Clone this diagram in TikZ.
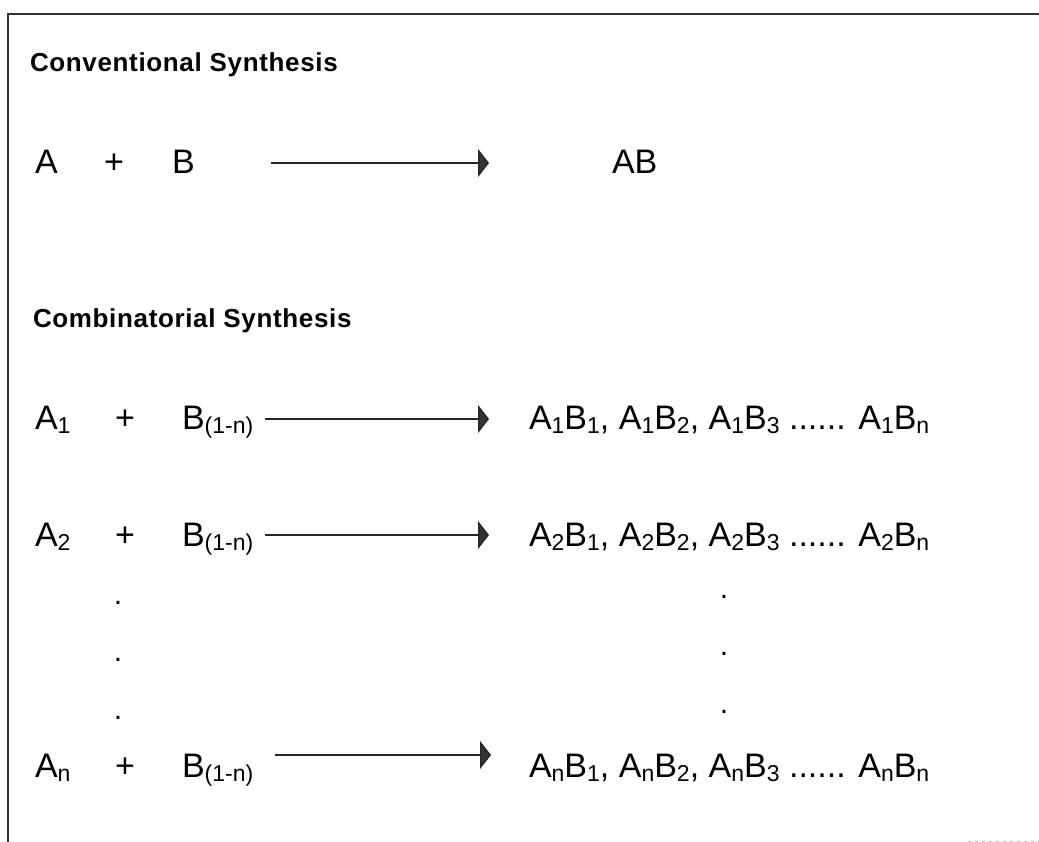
\documentclass[tikz,border=0pt]{standalone}
\usepackage{fontspec}
\setmainfont{Liberation Sans}
\usetikzlibrary{arrows.meta}

% subscript set slightly below the baseline
\newcommand{\sbs}[1]{\raisebox{-4pt}{\fontsize{23}{23}\selectfont #1}}
\newcommand{\hd}[1]{{\fontsize{26}{26}\selectfont\bfseries\addfontfeature{LetterSpace=2.5}#1}}

\tikzset{
  txt/.style={inner sep=0pt, outer sep=0pt, anchor=base west, font=\fontsize{34}{34}\selectfont},
  plus/.style={inner sep=0pt, outer sep=0pt, anchor=base, font=\fontsize{34}{34}\selectfont},
  dotmark/.style={inner sep=0pt, outer sep=0pt, anchor=base, font=\fontsize{30}{30}\selectfont},
  react/.style={draw=black!85, line width=1.4pt,
    -{Triangle[length=11pt,width=28pt,fill=black!80]}},
  frame/.style={draw=black!80, line width=1.4pt},
}

\begin{document}
\begin{tikzpicture}[x=1pt,y=-1pt]
\useasboundingbox (0,0) rectangle (1039,842);

% open frame: top and left edges
\coordinate (ftr) at (1039,14);
\coordinate (ftl) at (8,14);
\coordinate (fbl) at (8,842);
\draw[frame] (ftr) -- (ftl) -- (fbl);
\coordinate (sl) at (968,841);
\coordinate (sr) at (1039,841);
\draw[black!25, line width=0.8pt, dash pattern=on 3pt off 4pt] (sl) -- (sr);

% conventional synthesis
\node[txt] (h1) at (30,72) {\hd{Conventional Synthesis}};
\node[txt] (a0) at (35,174) {A};
\node[plus] (p0) at (114,174) {+};
\node[txt] (b0) at (172,174) {B};
\coordinate (s0) at (271,163);
\coordinate (e0) at (489,163);
\draw[react] (s0) -- (e0);
\node[txt] (ab0) at (612,174) {AB};

% combinatorial synthesis
\node[txt] (h2) at (33,328) {\hd{Combinatorial Synthesis}};

\node[txt] (a1) at (35,429) {A\sbs{1}};
\node[plus] (p1) at (125,429) {+};
\node[txt] (b1) at (182,429) {B\sbs{(1-n)}};
\coordinate (s1) at (265,419);
\coordinate (e1) at (489,419);
\draw[react] (s1) -- (e1);
\node[txt] (r1) at (529,429) {A\sbs{1}B\sbs{1}, A\sbs{1}B\sbs{2}, A\sbs{1}B\sbs{3} ...... A\sbs{1}B\sbs{n}};

\node[txt] (a2) at (35,546) {A\sbs{2}};
\node[plus] (p2) at (125,546) {+};
\node[txt] (b2) at (182,546) {B\sbs{(1-n)}};
\coordinate (s2) at (265,535);
\coordinate (e2) at (489,535);
\draw[react] (s2) -- (e2);
\node[txt] (r2) at (529,546) {A\sbs{2}B\sbs{1}, A\sbs{2}B\sbs{2}, A\sbs{2}B\sbs{3} ...... A\sbs{2}B\sbs{n}};

% vertical ellipsis
\node[dotmark] (dl1) at (118,604) {.};
\node[dotmark] (dl2) at (118,661) {.};
\node[dotmark] (dl3) at (118,719) {.};
\node[dotmark] (dr1) at (724,598) {.};
\node[dotmark] (dr2) at (724,655) {.};
\node[dotmark] (dr3) at (724,713) {.};

\node[txt] (an) at (35,777) {A\sbs{n}};
\node[plus] (pn) at (125,777) {+};
\node[txt] (bn) at (182,777) {B\sbs{(1-n)}};
\coordinate (sn) at (275,755);
\coordinate (en) at (491,755);
\draw[react] (sn) -- (en);
\node[txt] (rn) at (529,777) {A\sbs{n}B\sbs{1}, A\sbs{n}B\sbs{2}, A\sbs{n}B\sbs{3} ...... A\sbs{n}B\sbs{n}};
\end{tikzpicture}
\end{document}
